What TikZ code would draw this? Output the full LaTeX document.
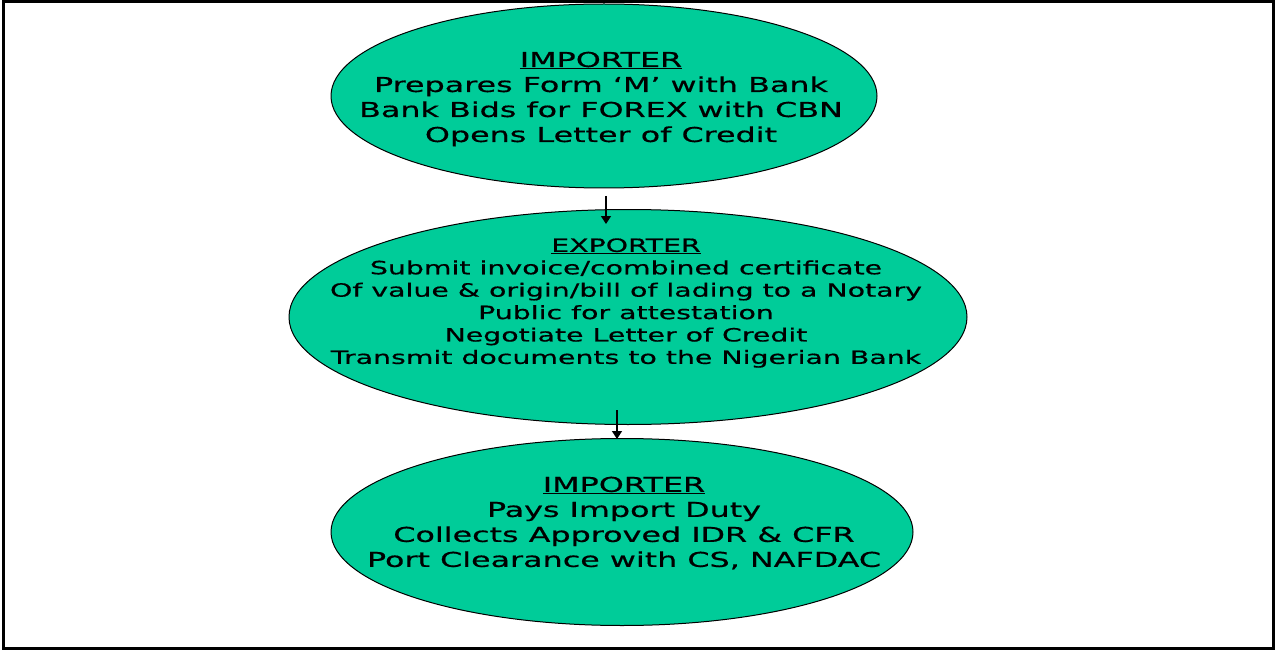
\documentclass[tikz,border=0pt]{standalone}
\usepackage{fontspec}
\setmainfont[FakeStretch=1.55,FakeBold=0.6]{DejaVu Sans}
\usetikzlibrary{shapes.geometric,arrows.meta}
\definecolor{teal}{HTML}{00CC99}
\begin{document}
\begin{tikzpicture}[x=1pt,y=-1pt,
  oval/.style={ellipse,draw=black,line width=1pt,fill=teal,inner sep=0pt},
  bigtxt/.style={align=center,inner sep=0pt,font=\fontsize{20.5}{25}\selectfont},
  midtxt/.style={align=center,inner sep=0pt,font=\fontsize{18.3}{22.4}\selectfont},
  flow/.style={line width=1.4pt,-{Triangle[width=10pt,length=8pt]}}]
\useasboundingbox (0,0) rectangle (1275,650);
\draw[line width=3pt] (3,2) rectangle (1273.5,648);
\node[oval,minimum width=546pt,minimum height=184pt] (e1) at (604,96) {};
\node[oval,minimum width=678pt,minimum height=215pt] (e2) at (628,317) {};
\node[oval,minimum width=582pt,minimum height=187pt] (e3) at (622,532) {};
\node[bigtxt] (t1) at (601,99) {\underline{IMPORTER}\\Prepares Form ‘M’ with Bank\\Bank Bids for FOREX with CBN\\Opens Letter of Credit};
\node[midtxt] (t2) at (626,303) {\underline{EXPORTER}\\Submit invoice/combined certificate\\Of value \& origin/bill of lading to a Notary\\Public for attestation\\Negotiate Letter of Credit\\Transmit documents to the Nigerian Bank};
\node[bigtxt] (t3) at (624,523) {\underline{IMPORTER}\\Pays Import Duty\\Collects Approved IDR \& CFR\\Port Clearance with CS, NAFDAC};
\coordinate (a1s) at (606,196);
\coordinate (a1e) at (606,224);
\coordinate (a2s) at (617,410);
\coordinate (a2e) at (617,439);
\draw[flow] (a1s) -- (a1e);
\draw[flow] (a2s) -- (a2e);
\end{tikzpicture}
\end{document}
